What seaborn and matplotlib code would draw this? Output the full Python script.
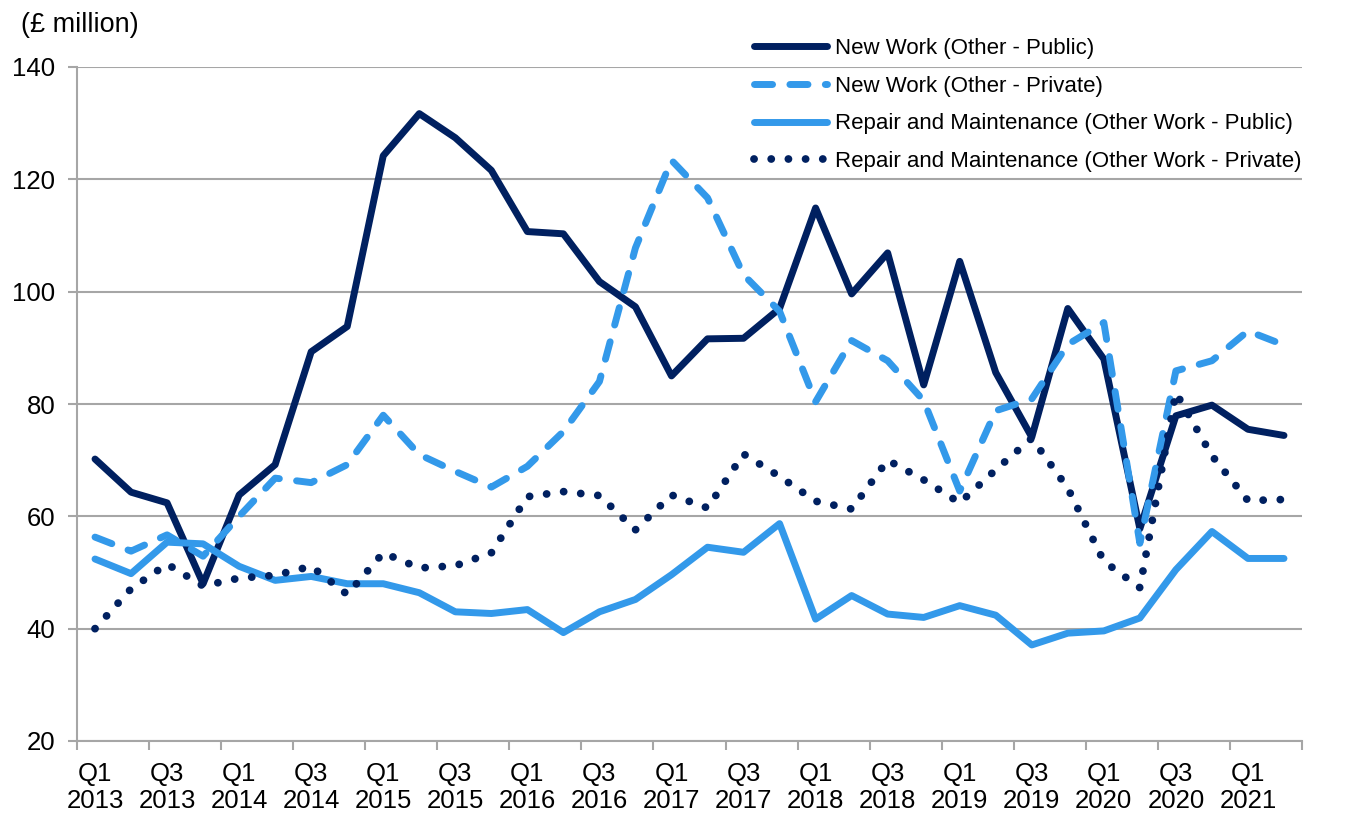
import matplotlib.pyplot as plt
import numpy as np
import pandas as pd
import seaborn as sns

# --- data (GBP million, quarterly) ---
quarters = [
    "Q1 2013", "Q2 2013", "Q3 2013", "Q4 2013",
    "Q1 2014", "Q2 2014", "Q3 2014", "Q4 2014",
    "Q1 2015", "Q2 2015", "Q3 2015", "Q4 2015",
    "Q1 2016", "Q2 2016", "Q3 2016", "Q4 2016",
    "Q1 2017", "Q2 2017", "Q3 2017", "Q4 2017",
    "Q1 2018", "Q2 2018", "Q3 2018", "Q4 2018",
    "Q1 2019", "Q2 2019", "Q3 2019", "Q4 2019",
    "Q1 2020", "Q2 2020", "Q3 2020", "Q4 2020",
    "Q1 2021", "Q2 2021",
]

new_work_public = [70.2, 64.3, 62.4, 48.0, 63.8, 69.2, 89.3, 93.8, 124.2, 131.7,
                   127.4, 121.6, 110.7, 110.3, 101.8, 97.3, 85.0, 91.6, 91.7, 97.0,
                   114.9, 99.6, 106.9, 83.4, 105.4, 85.6, 74.1, 97.0, 88.0, 57.8,
                   77.9, 79.8, 75.5, 74.4]
new_work_private = [56.3, 53.8, 56.7, 52.9, 60.0, 66.8, 66.0, 69.2, 78.0, 71.0,
                    68.0, 65.2, 68.9, 75.1, 84.0, 107.8, 123.4, 116.7, 103.0, 96.5,
                    80.4, 91.3, 87.7, 80.6, 64.5, 78.8, 80.9, 90.6, 94.5, 55.2,
                    85.9, 87.7, 93.0, 90.5]
rm_public = [52.4, 49.8, 55.4, 55.1, 51.1, 48.6, 49.3, 48.0, 48.0, 46.4,
             43.0, 42.7, 43.4, 39.3, 43.0, 45.2, 49.6, 54.5, 53.6, 58.7,
             41.7, 45.9, 42.6, 42.0, 44.1, 42.4, 37.1, 39.2, 39.6, 41.9,
             50.5, 57.3, 52.5, 52.5]
rm_private = [40.0, 47.1, 51.5, 47.6, 49.0, 49.5, 51.1, 46.1, 53.5, 50.8,
              51.2, 53.5, 63.5, 64.4, 63.7, 57.6, 63.8, 61.5, 71.1, 67.1,
              62.7, 61.3, 70.0, 66.5, 62.4, 68.3, 73.9, 65.0, 52.0, 47.3,
              82.0, 70.8, 62.8, 63.0]

series_labels = [
    "New Work (Other - Public)",
    "New Work (Other - Private)",
    "Repair and Maintenance (Other Work - Public)",
    "Repair and Maintenance (Other Work - Private)",
]
y_ticks = [20, 40, 60, 80, 100, 120, 140]

NAVY = "#002060"
LIGHT = "#3399EA"
GRID = "#A6A6A6"

df = pd.DataFrame({
    "pos": np.arange(len(quarters)),
    "quarter": quarters,
    series_labels[0]: new_work_public,
    series_labels[1]: new_work_private,
    series_labels[2]: rm_public,
    series_labels[3]: rm_private,
})

sns.set_style("white")
plt.rcParams['font.family'] = ['Liberation Sans', 'DejaVu Sans']
plt.rcParams['text.color'] = 'black'
plt.rcParams['xtick.color'] = 'black'
plt.rcParams['ytick.color'] = 'black'

fig = plt.figure(figsize=(13.54, 8.18), dpi=100)
ax = fig.add_axes([77 / 1354, 1 - 741 / 818, (1302 - 77) / 1354, (741 - 67) / 818])

# colour, dash pattern (in linewidths), linewidth
styles = [
    (NAVY, None, 5.0),
    (LIGHT, [2.6, 2.5], 5.0),
    (LIGHT, None, 5.0),
    (NAVY, [0.01, 2.2], 5.6),
]

for label, (color, dash, lw) in zip(series_labels, styles):
    sns.lineplot(data=df, x="pos", y=label, ax=ax, color=color,
                 linewidth=lw, label=label)
    line = ax.lines[-1]
    line.set_solid_joinstyle('round')
    line.set_solid_capstyle('round')
    if dash is not None:
        line.set_dashes(dash)
        line.set_dash_capstyle('round')
        line.set_dash_joinstyle('round')

# axes
ax.set_xlim(-0.5, len(quarters) - 0.5)
ax.set_ylim(20, 140)
ax.set_yticks(y_ticks)
ax.set_xlabel("")
ax.set_ylabel("")

# tick marks between categories, labels on every second quarter
ax.set_xticks(np.arange(-0.5, len(quarters), 2))
ax.set_xticklabels([])
ax.set_xticks(np.arange(0, len(quarters), 2), minor=True)
ax.set_xticklabels([q.replace(" ", "\n") for q in quarters[::2]], minor=True,
                   linespacing=1.15)
ax.tick_params(axis='x', which='major', direction='out', length=6.5,
               width=1.5, color=GRID, bottom=True)
ax.tick_params(axis='x', which='minor', length=0, pad=15, labelsize=18.5,
               labelcolor='black')
ax.tick_params(axis='y', direction='out', length=6.5, width=1.5, color=GRID,
               left=True, pad=9, labelsize=18.5, labelcolor='black')

ax.yaxis.grid(True, color=GRID, linewidth=1.5)
ax.xaxis.grid(False)
ax.set_axisbelow(True)
for side in ['top', 'right']:
    ax.spines[side].set_visible(False)
for side in ['left', 'bottom']:
    ax.spines[side].set_color(GRID)
    ax.spines[side].set_linewidth(1.5)

fig.text(21 / 1354, 1 - 25 / 818, "(£ million)", fontsize=19.5, va='center',
         ha='left', color='black')

leg = ax.legend(loc='upper left', bbox_to_anchor=(754 / 1354, 1 - 38 / 818),
                bbox_transform=fig.transFigure, frameon=False, fontsize=16,
                handlelength=3.3, handletextpad=0.35, labelspacing=0.75,
                borderpad=0, borderaxespad=0)
for txt in leg.get_texts():
    txt.set_color('black')

fig.savefig("out.png", dpi=100)
